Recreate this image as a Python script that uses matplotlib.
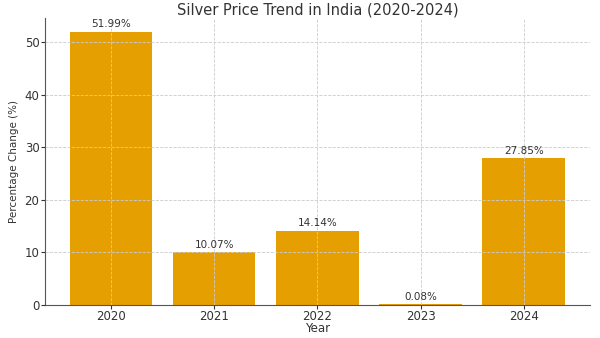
import matplotlib
matplotlib.use("Agg")
import matplotlib.pyplot as plt

years = ["2020", "2021", "2022", "2023", "2024"]
changes = [51.99, 10.07, 14.14, 0.08, 27.85]
labels = ["51.99%", "10.07%", "14.14%", "0.08%", "27.85%"]

text_color = "#333333"

fig = plt.figure(figsize=(6, 3.38), dpi=100)
ax = fig.add_axes([0.075, 0.098, 0.908, 0.849])

bars = ax.bar(years, changes, color="#E69F00", width=0.8)
for b, lab in zip(bars, labels):
    ax.text(b.get_x() + b.get_width() / 2, b.get_height() + 0.4, lab,
            ha="center", va="bottom", fontsize=7.5, color=text_color)

ax.grid(True, linestyle="--", color="#cccccc", linewidth=0.6)
ax.set_axisbelow(False)
ax.spines["top"].set_visible(False)
ax.spines["right"].set_visible(False)
for s in ("left", "bottom"):
    ax.spines[s].set_color("#555555")

ax.set_title("Silver Price Trend in India (2020-2024)", fontsize=10.5, color=text_color, pad=2)
ax.set_xlabel("Year", fontsize=8.5, color=text_color, labelpad=-1)
ax.set_ylabel("Percentage Change (%)", fontsize=7.5, color=text_color)
ax.tick_params(labelsize=8.5, colors=text_color, length=3, pad=1)

fig.savefig("out.png", dpi=100)
